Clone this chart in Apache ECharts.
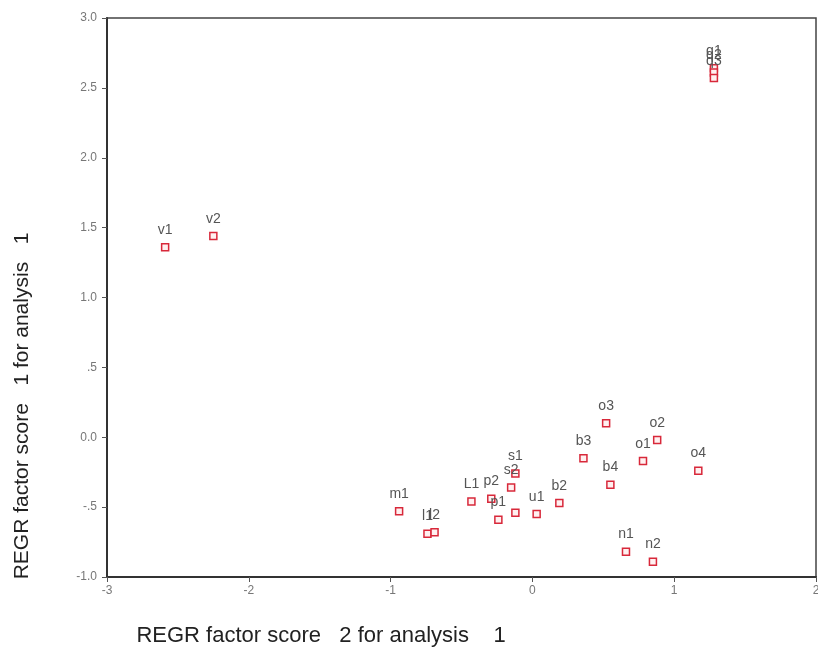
<!DOCTYPE html>
<html>
<head>
<meta charset="utf-8">
<script src="https://cdn.jsdelivr.net/npm/echarts@6/dist/echarts.min.js"></script>
<style>
  html, body { margin: 0; padding: 0; background: #fff; }
  #chart { width: 818px; height: 672px; }
</style>
</head>
<body>
<div id="chart"></div>
<script>
const names = ['v1', 'v2', 'q1', 'q2', 'q3', 'm1', 'l1', 'l2', 'L1', 'p2', 's1', 's2', 'p1', '', 'u1', 'b2', 'b3', 'o3', 'o2', 'o1', 'b4', 'o4', 'n1', 'n2'];
const xScores = [-2.59, -2.25, 1.28, 1.28, 1.28, -0.94, -0.74, -0.69, -0.43, -0.29, -0.12, -0.15, -0.24, -0.12, 0.03, 0.19, 0.36, 0.52, 0.88, 0.78, 0.55, 1.17, 0.66, 0.85];
const yScores = [1.36, 1.44, 2.64, 2.61, 2.57, -0.53, -0.69, -0.68, -0.46, -0.44, -0.26, -0.36, -0.59, -0.54, -0.55, -0.47, -0.15, 0.10, -0.02, -0.17, -0.34, -0.24, -0.82, -0.89];
const xTickLabels = ['-3', '-2', '-1', '0', '1', '2'];
const yTickLabels = ['-1.0', '-.5', '0.0', '.5', '1.0', '1.5', '2.0', '2.5', '3.0'];

const chart = echarts.init(document.getElementById('chart'));

const points = names.map(function (n, i) {
    return { name: n, value: [xScores[i], yScores[i]] };
});

const option = {
    backgroundColor: '#fff',
    animation: false,
    grid: {
        left: 107,
        right: 2,
        top: 18,
        bottom: 95,
        outerBoundsMode: 'none',
        show: true,
        borderColor: '#444',
        borderWidth: 1.5
    },
    xAxis: {
        type: 'value',
        min: -3,
        max: 2,
        interval: 1,
        splitLine: { show: false },
        axisLine: { onZero: false, lineStyle: { color: '#333', width: 2 } },
        axisTick: { show: true, length: 5, lineStyle: { color: '#555' } },
        axisLabel: {
            color: '#777',
            fontSize: 12,
            fontFamily: 'Liberation Sans',
            margin: 8,
            formatter: function (v, i) { return xTickLabels[i]; }
        }
    },
    yAxis: {
        type: 'value',
        min: -1,
        max: 3,
        interval: 0.5,
        splitLine: { show: false },
        axisLine: { onZero: false, lineStyle: { color: '#333', width: 2 } },
        axisTick: { show: true, length: 5, lineStyle: { color: '#555' } },
        axisLabel: {
            color: '#777',
            fontSize: 12,
            fontFamily: 'Liberation Sans',
            margin: 10,
            formatter: function (v, i) { return yTickLabels[i]; }
        }
    },
    series: [{
        type: 'scatter',
        symbol: 'rect',
        symbolSize: 7,
        itemStyle: {
            color: '#fff0f0',
            borderColor: '#d8283a',
            borderWidth: 1.5,
            opacity: 1
        },
        label: {
            show: true,
            position: 'top',
            distance: 6,
            formatter: '{b}',
            color: '#555',
            fontSize: 14,
            fontFamily: 'Liberation Sans'
        },
        labelLayout: { hideOverlap: false },
        data: points
    }],
    graphic: [{
        type: 'text',
        x: 22,
        y: 406,
        rotation: Math.PI / 2,
        style: {
            text: 'REGR factor score   1 for analysis   1',
            fill: '#222',
            font: '21px "Liberation Sans", Arial, sans-serif',
            textAlign: 'center',
            textVerticalAlign: 'middle'
        }
    }, {
        type: 'text',
        x: 321,
        y: 636,
        style: {
            text: 'REGR factor score   2 for analysis    1',
            fill: '#222',
            font: '22px "Liberation Sans", Arial, sans-serif',
            textAlign: 'center',
            textVerticalAlign: 'middle'
        }
    }]
};

chart.setOption(option);
</script>
</body>
</html>
